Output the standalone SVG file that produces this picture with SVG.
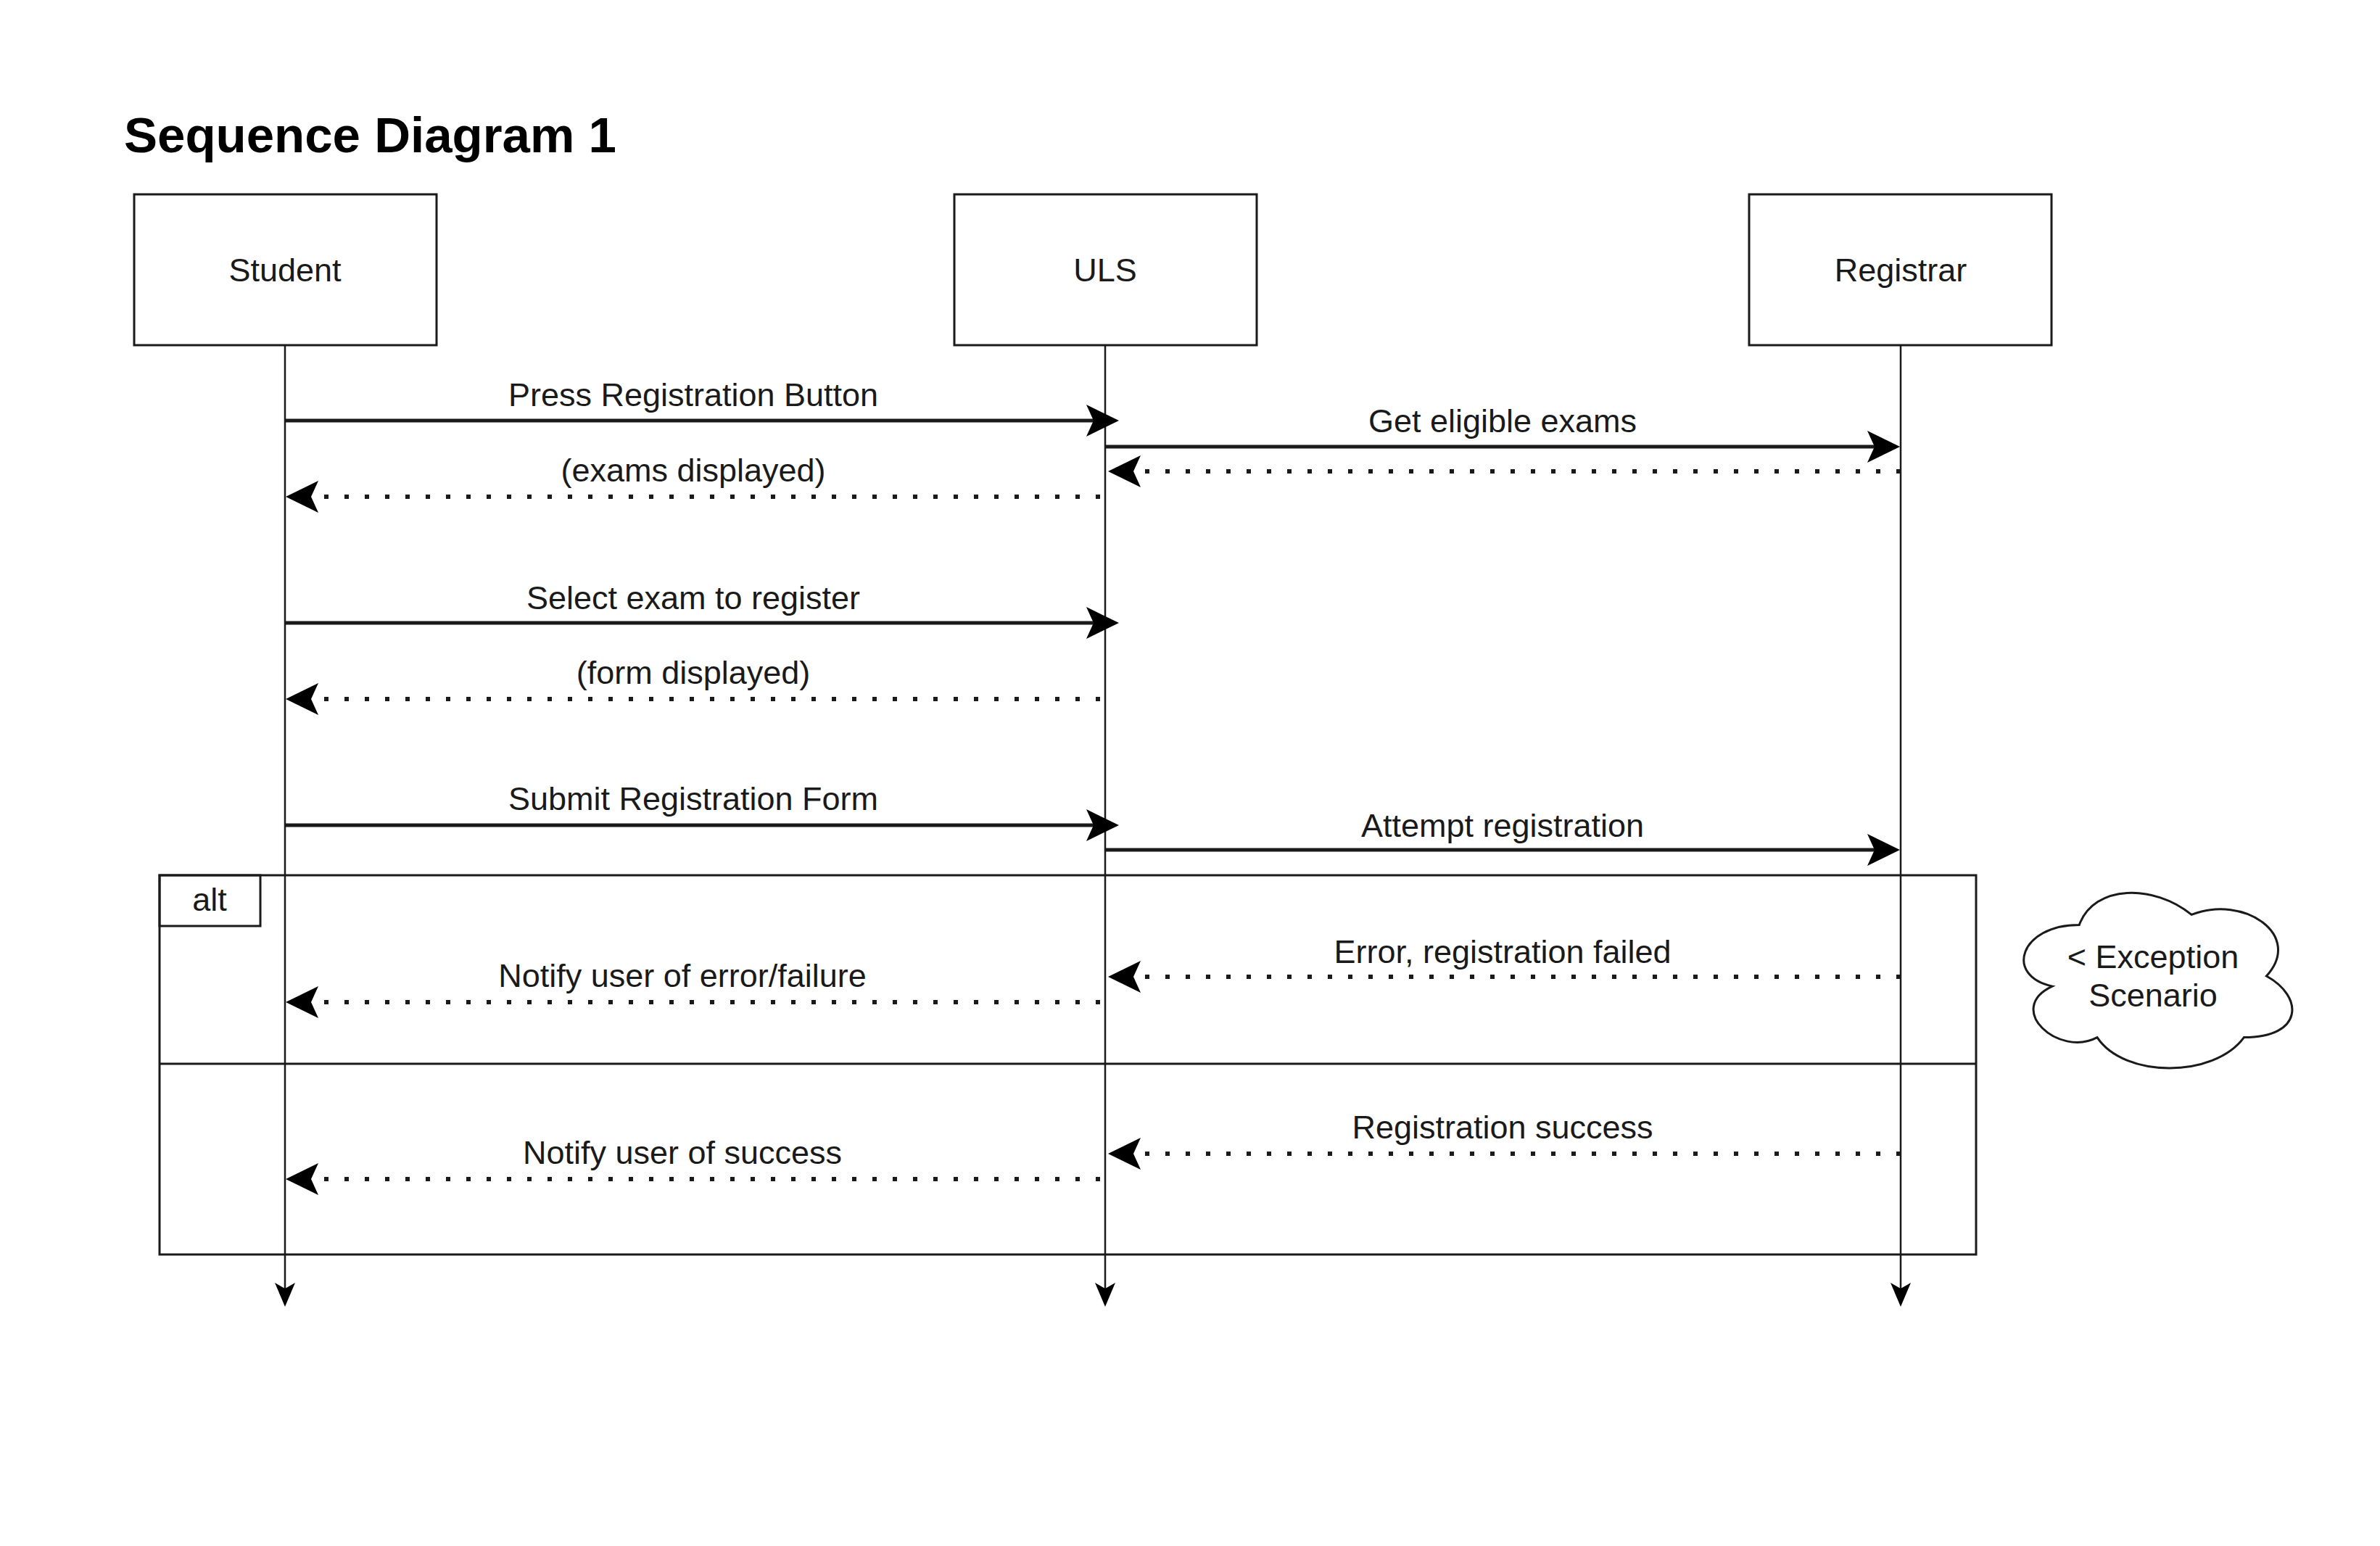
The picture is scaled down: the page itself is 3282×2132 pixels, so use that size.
<svg xmlns="http://www.w3.org/2000/svg" width="3282" height="2132" viewBox="0 0 3282 2132">
  <style>
    .box { fill: #ffffff; stroke: #1a1a1a; stroke-width: 3; }
    .life { fill: none; stroke: #1a1a1a; stroke-width: 2.5; }
    .msg { fill: none; stroke: #1a1a1a; stroke-width: 5; }
    .ret { fill: none; stroke: #1a1a1a; stroke-width: 6; stroke-dasharray: 6 22; }
    .frame { fill: none; stroke: #1a1a1a; stroke-width: 3; }
    .lbl { font-family: "Liberation Sans", Arial, sans-serif; font-size: 45px; fill: #1a1a1a; text-anchor: middle; }
    .title { font-family: "Liberation Sans", Arial, sans-serif; font-size: 69px; font-weight: bold; fill: #000000; }
  </style>
  <defs>
    <marker id="head" markerUnits="userSpaceOnUse" orient="auto" refX="10" refY="0" markerWidth="50" markerHeight="50" overflow="visible">
      <path d="M0,-22 L45,0 L0,22 L10,0 Z" fill="#000000"/>
    </marker>
    <marker id="lifehead" markerUnits="userSpaceOnUse" orient="auto" refX="8" refY="0" markerWidth="40" markerHeight="40" overflow="visible">
      <path d="M0,-14 L33,0 L0,14 L8,0 Z" fill="#000000"/>
    </marker>
  </defs>
  <rect x="0" y="0" width="3282" height="2132" fill="#ffffff"/>

  <text class="title" x="171" y="210">Sequence Diagram 1</text>

  <g id="student">
    <rect class="box" x="185" y="268" width="417" height="208"/>
    <text class="lbl" x="393" y="388">Student</text>
  </g>
  <g id="uls">
    <rect class="box" x="1316" y="268" width="417" height="208"/>
    <text class="lbl" x="1524" y="388">ULS</text>
  </g>
  <g id="registrar">
    <rect class="box" x="2412" y="268" width="417" height="208"/>
    <text class="lbl" x="2621" y="388">Registrar</text>
  </g>

  <g id="alt-frame">
    <rect class="frame" x="220" y="1207" width="2505" height="523"/>
    <line class="frame" x1="220" y1="1467" x2="2725" y2="1467"/>
    <rect class="frame" x="220" y="1207" width="139" height="70"/>
    <text class="lbl" x="289" y="1256">alt</text>
  </g>

  <g id="exception-note">
    <path d="M2867.25,1275.5 C2784.65,1275.5 2764,1346 2830.08,1360.1 C2764,1391.12 2838.34,1458.8 2892.03,1430.6 C2929.2,1487 3053.1,1487 3094.4,1430.6 C3177,1430.6 3177,1374.2 3125.38,1346 C3177,1289.6 3094.4,1233.2 3022.13,1261.4 C2970.5,1219.1 2887.9,1219.1 2867.25,1275.5 Z" fill="#ffffff" stroke="#1a1a1a" stroke-width="3"/>
    <text class="lbl" x="2969" y="1335">&lt; Exception</text>
    <text class="lbl" x="2969" y="1388">Scenario</text>
  </g>

  <g id="connectors">
    <!-- lifelines -->
    <line class="life" x1="393" y1="476" x2="393" y2="1777" marker-end="url(#lifehead)"/>
    <line class="life" x1="1524" y1="476" x2="1524" y2="1777" marker-end="url(#lifehead)"/>
    <line class="life" x1="2621" y1="476" x2="2621" y2="1777" marker-end="url(#lifehead)"/>

    <!-- messages -->
    <line class="msg" x1="393" y1="580" x2="1508" y2="580" marker-end="url(#head)"/>
    <text class="lbl" x="956" y="560">Press Registration Button</text>

    <line class="msg" x1="1524" y1="616" x2="2585" y2="616" marker-end="url(#head)"/>
    <text class="lbl" x="2072" y="596">Get eligible exams</text>

    <line class="ret" x1="2621" y1="650" x2="1563" y2="650" marker-end="url(#head)"/>

    <line class="ret" x1="1517" y1="685" x2="429" y2="685" marker-end="url(#head)"/>
    <text class="lbl" x="956" y="664">(exams displayed)</text>

    <line class="msg" x1="393" y1="859" x2="1508" y2="859" marker-end="url(#head)"/>
    <text class="lbl" x="956" y="840">Select exam to register</text>

    <line class="ret" x1="1517" y1="964" x2="429" y2="964" marker-end="url(#head)"/>
    <text class="lbl" x="956" y="943">(form displayed)</text>

    <line class="msg" x1="393" y1="1138" x2="1508" y2="1138" marker-end="url(#head)"/>
    <text class="lbl" x="956" y="1117">Submit Registration Form</text>

    <line class="msg" x1="1524" y1="1172" x2="2585" y2="1172" marker-end="url(#head)"/>
    <text class="lbl" x="2072" y="1154">Attempt registration</text>

    <line class="ret" x1="2621" y1="1347" x2="1563" y2="1347" marker-end="url(#head)"/>
    <text class="lbl" x="2072" y="1328">Error, registration failed</text>

    <line class="ret" x1="1517" y1="1382" x2="429" y2="1382" marker-end="url(#head)"/>
    <text class="lbl" x="941" y="1361">Notify user of error/failure</text>

    <line class="ret" x1="2621" y1="1591" x2="1563" y2="1591" marker-end="url(#head)"/>
    <text class="lbl" x="2072" y="1570">Registration success</text>

    <line class="ret" x1="1517" y1="1626" x2="429" y2="1626" marker-end="url(#head)"/>
    <text class="lbl" x="941" y="1605">Notify user of success</text>
  </g>
</svg>
